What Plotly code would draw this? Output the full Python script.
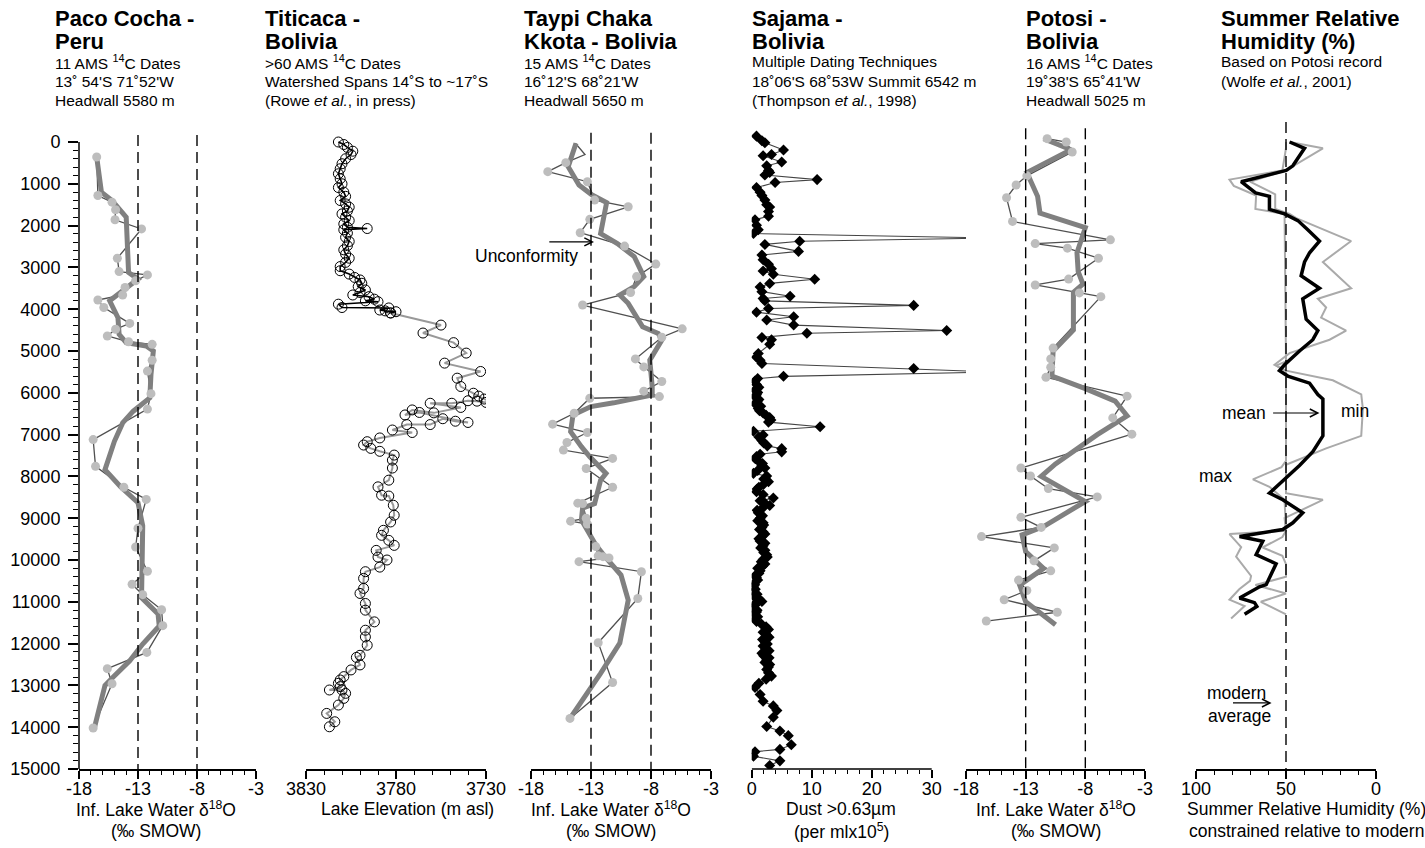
import plotly.graph_objects as go

FONT = "Liberation Sans, Arial, Helvetica, sans-serif"
W, H = 1425, 848

# ---------------- DATA ----------------
# Paco Cocha (Peru): inferred lake water d18O vs age (cal yr BP)
paco_d18o = [-16.5, -16.4, -15.2, -14.9, -14.95, -12.7, -14.75, -14.6, -12.2, -13.2, -14.1, -14.3,
             -16.4, -15.9, -13.7, -14.9, -15.6, -13.8, -11.8, -11.8, -12.2, -11.9, -12.2, -16.8,
             -16.6, -14.2, -12.3, -13.0, -13.2, -12.2, -13.5, -12.6, -11.0, -10.9, -12.25, -15.6,
             -15.2, -16.8]
paco_age = [360, 1280, 1440, 1620, 1860, 2080, 2780, 3100, 3180, 3320, 3480, 3660,
            3780, 3960, 4340, 4480, 4640, 4780, 4840, 5220, 5480, 6020, 6390, 7120,
            7760, 8260, 8550, 9240, 9690, 10270, 10580, 10830, 11190, 11570, 12210, 12600,
            12960, 14020]
paco_smooth_d18o = [-16.5, -16.1, -15.2, -14.0, -13.8, -13.0, -15.4, -14.7, -14.6, -14.0, -12.3,
                    -11.7, -11.9, -12.0, -13.4, -14.3, -15.0, -15.8, -14.5, -13.0, -12.6, -12.6,
                    -12.7, -11.3, -11.2, -12.6, -13.7, -15.1, -15.8, -16.7]
paco_smooth_age = [360, 1200, 1400, 1800, 3120, 3280, 3800, 4200, 4600, 4800, 4880,
                   5000, 5560, 6120, 6440, 6720, 7160, 7840, 8240, 8630, 9180, 9970,
                   10900, 11290, 11580, 12010, 12410, 12800, 13000, 14020]

# Titicaca: lake elevation (m asl)
titi_upper_elev = [3812, 3809, 3807, 3804, 3805, 3808, 3810, 3811, 3812, 3811, 3810, 3812, 3809,
                   3808, 3811, 3808, 3806, 3807, 3810, 3808, 3806, 3809, 3807, 3796, 3809, 3807,
                   3808, 3806, 3807, 3809, 3808, 3806, 3808, 3811, 3811, 3806, 3803, 3800, 3799,
                   3801, 3797, 3800, 3804, 3795, 3792, 3797, 3790, 3812, 3810, 3784, 3789, 3786,
                   3780, 3783]
titi_upper_age = [0, 60, 130, 220, 300, 400, 520, 640, 760, 880, 1000, 1090, 1200,
                  1300, 1400, 1480, 1560, 1650, 1720, 1800, 1880, 1960, 2040, 2070, 2100, 2180,
                  2280, 2380, 2480, 2580, 2680, 2780, 2880, 2980, 3080, 3160, 3240, 3300, 3380,
                  3460, 3540, 3600, 3660, 3700, 3760, 3800, 3820, 3880, 3960, 3970, 4020, 4040,
                  4060, 4090]
titi_lower_elev = [3783, 3755, 3765, 3748, 3741, 3753, 3733, 3746, 3744, 3737, 3734, 3731, 3727,
                   3730, 3735, 3740, 3749, 3761, 3744, 3759, 3771, 3775, 3767, 3740, 3747, 3754,
                   3761, 3774, 3782, 3771, 3789, 3796, 3798, 3794, 3789, 3781, 3782, 3782, 3784,
                   3790, 3788, 3784, 3781.5, 3781, 3783, 3787, 3788, 3784, 3781, 3791, 3790, 3785,
                   3789, 3797, 3798, 3798, 3800, 3797, 3797, 3792, 3797, 3797, 3796, 3800, 3802,
                   3800, 3805, 3809, 3811, 3812, 3811, 3817, 3810, 3808, 3809, 3812, 3818.5, 3814,
                   3817]
titi_lower_age = [4090, 4380, 4570, 4800, 5050, 5290, 5490, 5650, 5850, 6010, 6080, 6150, 6210,
                  6230, 6200, 6190, 6250, 6250, 6350, 6480, 6410, 6530, 6470, 6710, 6680, 6620,
                  6760, 6760, 6890, 6950, 7080, 7170, 7250, 7330, 7400, 7490, 7610, 7800, 8090,
                  8250, 8450, 8470, 8690, 8930, 9090, 9290, 9410, 9530, 9650, 9770, 9930, 10000,
                  10170, 10280, 10440, 10680, 10800, 11040, 11200, 11480, 11680, 11840, 12040, 12280, 12330,
                  12510, 12630, 12790, 12870, 12950, 13030, 13110, 13110, 13190, 13310, 13470, 13670, 13870,
                  13990]

# Taypi Chaka Kkota
taypi_d18o = [-14.3, -13.5, -15.1, -16.6, -13.3, -12.7, -9.9, -13.1, -13.9, -10.2, -7.6, -9.2, -9.7,
              -13.7, -5.4, -7.1, -9.3, -8.6, -7.1, -8.6, -7.3, -13.1, -14.4, -16.2, -13.3, -15.0,
              -15.3, -11.2, -13.4, -11.2, -14.1, -13.7, -13.4, -14.7, -13.3, -12.6, -12.4, -12.0,
              -11.5, -14.0, -8.8, -9.1, -12.4, -11.2, -14.75]
taypi_age = [30, 300, 495, 710, 950, 1390, 1550, 1850, 2170, 2490, 2920, 3220, 3600,
             3900, 4470, 4670, 5190, 5380, 5730, 5960, 6090, 6130, 6490, 6750, 6950, 7190,
             7370, 7570, 7810, 8260, 8640, 8650, 9000, 9070, 9140, 9680, 9900, 9920,
             9950, 10040, 10280, 10920, 11980, 12930, 13790]
taypi_smooth_d18o = [-14.25, -14.5, -14.9, -14.0, -12.9, -11.7, -12.2, -10.8, -9.4, -8.6, -9.4, -10.6,
                     -9.9, -8.7, -7.4, -7.1, -8.1, -7.9, -7.9, -11.1, -13.0, -14.5, -14.7, -13.8,
                     -13.1, -11.75, -12.2, -12.7, -13.7, -13.8, -12.6, -11.6, -10.5, -9.9, -10.6,
                     -12.2, -14.75]
taypi_smooth_age = [30, 270, 590, 1030, 1270, 1450, 2190, 2430, 2740, 3220, 3460, 3660,
                    3860, 4420, 4580, 4740, 5220, 5850, 6050, 6240, 6330, 6530, 6930, 7290,
                    7530, 7930, 8090, 8650, 8760, 9040, 9640, 10000, 10360, 10960, 11990,
                    12710, 13790]

# Sajama ice core dust (>0.63 um, per ml x 10^5)
sajama_dust = [0.8, 1.7, 2.2, 5.3, 3.3, 1.9, 5.0, 2.5, 2.8, 3.0, 2.2, 10.9, 3.9, 0.8, 1.4, 1.7,
               2.2, 2.5, 3.0, 2.8, 2.8, 0.55, 0.8, 1.1, 0.3, 40.2, 8.0, 2.2, 7.8, 1.7, 1.9, 2.8,
               3.3, 1.9, 3.6, 10.5, 3.0, 1.4, 1.7, 6.4, 1.9, 2.2, 27.0, 2.8, 0.8, 7.0, 2.5, 7.0,
               32.5, 9.2, 1.7, 3.3, 3.0, 1.1, 0.8, 1.4, 1.7, 27.0, 40.4, 5.3, 0.55, 0.55, 0.8,
               0.55, 1.1, 1.9, 3.0, 2.8, 11.4, 0.3, 1.9, 1.7, 5.0, 5.0, 0.8, 1.1, 1.7, 0.3, 2.5,
               2.8, 0.8, 1.9, 3.6, 1.4, 3.0, 1.1, 1.4, 1.9, 1.7, 1.9, 1.7, 1.4, 1.9, 2.2, 2.5,
               1.9, 2.2, 1.4, 0.8, 0.55, 0.3, 0.3, 1.7, 0.55, 0.8, 0.55, 2.5, 2.2, 2.5, 1.7, 2.5,
               2.8, 3.3, 0.55, 1.4, 1.9, 3.6, 4.2, 3.6, 2.5, 4.7, 6.1, 6.6, 4.7, 0.55, 0.3, 4.7,
               3.0]
sajama_age = [-140, -30, 20, 190, 300, 330, 480, 570, 680, 730, 790, 900, 970, 1090, 1200, 1280,
              1390, 1500, 1555, 1665, 1775, 1860, 1990, 2100, 2190, 2297, 2376, 2450, 2617, 2704, 2814, 2923,
              3033, 3088, 3164, 3285, 3383, 3471, 3580, 3690, 3745, 3800, 3909, 3985, 4073, 4182, 4259, 4380,
              4511, 4577, 4675, 4730, 4840, 5058, 5146, 5223, 5299, 5420, 5502, 5606, 5716, 5935, 6044,
              6263, 6373, 6482, 6592, 6701, 6811, 6920, 7008, 7139, 7336, 7413, 7522, 7632, 7741, 7927, 7993,
              8125, 8365, 8431, 8519, 8584, 8694, 8869, 9001, 9110, 9220, 9329, 9439, 9548, 9658, 9767, 9877,
              9986, 10096, 10260, 10424, 10534, 10643, 10862, 10993, 11081, 11245, 11410, 11793, 11957, 12121, 12231, 12395,
              12559, 12778, 13052, 13216, 13381, 13490, 13600, 13764, 13983, 14092, 14202, 14421, 14531, 14586, 14696, 14805,
              14914]
# extra samples read from the dense, nearly continuous part of the record
sajama_dense_dust = [1.0, 0.8, 1.2, 1.0, 0.6, 1.2, 0.9, 1.5, 1.3, 2.4, 3.2, 1.2, 2.0, 2.6, 1.4, 0.6,
                     1.8, 2.2, 1.0, 2.0, 2.0, 1.2, 0.9, 2.2, 1.8, 0.9, 1.8, 1.0, 2.0, 1.3, 2.2, 1.2,
                     2.2, 1.5, 2.0, 2.6, 1.6, 1.8, 1.0, 1.2, 0.6, 1.0, 0.5, 0.6, 0.3, 0.9, 1.2, 0.6,
                     0.3, 0.9, 0.5, 1.0, 0.8, 1.6, 2.4, 2.8, 1.9, 2.9, 1.8, 2.6, 1.9, 2.9, 2.0, 2.9,
                     2.2, 3.0, 2.5, 2.8, 2.4, 1.2]
sajama_dense_age = [5660, 5800, 5870, 5990, 6100, 6160, 6210, 6320, 6430, 6540, 6650, 7060, 7200, 7270,
                    7470, 7580, 7690, 7800, 7860, 8060, 8190, 8260, 8300, 8640, 8760, 8810, 8940, 9060,
                    9160, 9270, 9380, 9490, 9600, 9710, 9820, 9930, 10040, 10150, 10200, 10320, 10370,
                    10480, 10590, 10700, 10760, 10820, 10930, 11040, 11160, 11200, 11300, 11360, 11470,
                    11530, 11600, 11660, 11730, 11850, 11900, 12010, 12060, 12170, 12290, 12340, 12450,
                    12500, 12620, 12700, 12850, 12950]

# Potosi
potosi_d18o = [-11.2, -9.6, -9.1, -12.9, -13.8, -14.6, -14.1, -5.9, -12.2, -9.5, -6.9, -9.4, -12.2,
               -8.5, -6.7, -10.7, -10.9, -10.9, -11.3, -4.5, -5.7, -4.1, -13.4, -12.6, -11.1, -7.0,
               -13.4, -11.7, -16.7, -10.6, -12.3, -10.9, -13.6, -12.9, -14.8, -10.35, -16.3]
potosi_age = [-80, 0, 240, 810, 1030, 1335, 1900, 2340, 2430, 2540, 2780, 3280, 3420,
              3610, 3700, 4930, 5190, 5390, 5630, 6080, 6600, 6990, 7800, 7990, 8290, 8490,
              8980, 9220, 9440, 9710, 10020, 10260, 10480, 10730, 10950, 11250, 11460]
potosi_smooth_d18o = [-11.5, -9.2, -12.9, -12.0, -11.8, -8.0, -8.7, -8.6, -8.2, -9.0, -9.0, -10.7,
                      -10.8, -8.0, -5.5, -4.5, -7.0, -10.5, -11.7, -8.0, -11.5, -13.3, -13.0, -11.5,
                      -13.5, -13.0, -10.5]
potosi_smooth_age = [-80, 185, 730, 1300, 1700, 2050, 2650, 3100, 3400, 3600, 4500, 5000,
                     5600, 5900, 6200, 6550, 7000, 7700, 8000, 8600, 9200, 9400, 9800, 10200,
                     10600, 11000, 11550]

# Summer relative humidity (%) based on Potosi record
rh_mean = [48, 39.7, 46.2, 49.9, 74.9, 66.9, 59.2, 59.2, 50.8, 43.4, 37.9, 31.4, 36.9, 39.7, 41.6,
           31.4, 40.7, 39.7, 38.8, 32.3, 35.1, 42.5, 50.8, 53.6, 49, 36.9, 32.3, 29.5, 29.5, 35.1,
           42.5, 50.8, 59.2, 51.8, 40.7, 46.2, 51.8, 75.8, 62.9, 66.6, 55.5, 61, 64.7, 75.8, 67.5,
           66.2, 73]
rh_mean_age = [0, 150, 570, 680, 950, 1220, 1300, 1610, 1720, 1880, 2100, 2370, 2650, 2870, 3200,
               3500, 3750, 3960, 4240, 4510, 4730, 5000, 5330, 5470, 5600, 5770, 6040, 6150, 7030, 7410,
               7740, 8070, 8400, 8560, 8870, 9110, 9270, 9440, 9550, 9870, 10090, 10590, 10640, 10910, 11020,
               11110, 11300]
rh_max = [50, 50, 52, 81.4, 79, 66.6, 67, 50.8, 50, 55.5, 50, 50, 52.5, 68.4, 59.2, 50.8, 50,
          81.4, 74.9, 77.7, 69.4, 70, 76, 81.4, 73, 80.5]
rh_max_age = [0, 150, 680, 900, 1050, 1280, 1600, 1720, 5250, 5350, 5480, 7630, 7780, 8070, 8250,
              8560, 9300, 9380, 9690, 9920, 10380, 10500, 10700, 10950, 11100, 11400]
rh_min = [48, 29.5, 50, 70, 56, 56, 48, 44.3, 13.8, 29.5, 13.8, 32.3, 27.7, 30.5, 16.6, 25.8, 48,
          56.4, 50, 24, 8.2, 7.3, 8.2, 27.7, 50, 50, 29.5, 50.8, 50, 52, 63, 52, 50, 50, 67, 50,
          64, 50]
rh_min_age = [0, 150, 680, 950, 1250, 1600, 1720, 1820, 2370, 2870, 3500, 3750, 3960, 4200, 4510,
              4730, 5050, 5330, 5470, 5700, 6040, 6380, 7030, 7330, 7720, 8400, 8560, 9000, 9300, 9450,
              9700, 9900, 10100, 10400, 10600, 10800, 11000, 11300]

age_ticks = list(range(0, 15001, 1000))
age_ticklabels = [str(v) for v in age_ticks]
d18o_ticks = [-18, -13, -8, -3]
elev_ticks = [3830, 3780, 3730]
dust_ticks = [0, 10, 20, 30]
rh_ticks = [100, 50, 0]

# ---------------- FIGURE ----------------
def fx(p):
    return p / W

def fy(p):
    return 1 - p / H

fig = go.Figure()

LIGHT = "#bdbdbd"
THIN = "#505050"
THICK = "#808080"

def isotope_panel(xa, thin_x, thin_y, sm_x, sm_y, mk_x, mk_y):
    fig.add_trace(go.Scatter(x=thin_x, y=thin_y, mode="lines", xaxis=xa, yaxis="y",
                             line=dict(color=THIN, width=1.3), hoverinfo="skip"))
    fig.add_trace(go.Scatter(x=sm_x, y=sm_y, mode="lines", xaxis=xa, yaxis="y",
                             line=dict(color=THICK, width=5), hoverinfo="skip"))
    fig.add_trace(go.Scatter(x=mk_x, y=mk_y, mode="markers", xaxis=xa, yaxis="y",
                             marker=dict(color=LIGHT, size=9, line=dict(width=0))))

isotope_panel("x", paco_d18o, paco_age, paco_smooth_d18o, paco_smooth_age, paco_d18o, paco_age)

fig.add_trace(go.Scatter(x=titi_lower_elev, y=titi_lower_age, mode="lines", xaxis="x2", yaxis="y",
                         line=dict(color="#999999", width=2)))
fig.add_trace(go.Scatter(x=titi_upper_elev, y=titi_upper_age, mode="lines", xaxis="x2", yaxis="y",
                         line=dict(color="black", width=1.6)))
fig.add_trace(go.Scatter(x=titi_upper_elev + titi_lower_elev, y=titi_upper_age + titi_lower_age,
                         mode="markers", xaxis="x2", yaxis="y",
                         marker=dict(symbol="circle-open", color="black", size=10, line=dict(width=1))))

isotope_panel("x3", taypi_d18o, taypi_age, taypi_smooth_d18o, taypi_smooth_age,
              taypi_d18o[2:], taypi_age[2:])

saj = sorted(zip(sajama_age + sajama_dense_age, sajama_dust + sajama_dense_dust))
fig.add_trace(go.Scatter(x=[d for _, d in saj], y=[a for a, _ in saj], mode="lines+markers",
                         xaxis="x4", yaxis="y",
                         line=dict(color="#444444", width=1.1),
                         marker=dict(symbol="diamond", color="black", size=8.5)))

isotope_panel("x5", potosi_d18o, potosi_age, potosi_smooth_d18o, potosi_smooth_age,
              potosi_d18o, potosi_age)

fig.add_trace(go.Scatter(x=rh_max, y=rh_max_age, mode="lines", xaxis="x6", yaxis="y",
                         line=dict(color="#aaaaaa", width=2)))
fig.add_trace(go.Scatter(x=rh_min, y=rh_min_age, mode="lines", xaxis="x6", yaxis="y",
                         line=dict(color="#aaaaaa", width=2)))
fig.add_trace(go.Scatter(x=rh_mean, y=rh_mean_age, mode="lines", xaxis="x6", yaxis="y",
                         line=dict(color="black", width=3.5)))

Y_BOT, Y_TOP = 769, 121.1
tickfont = dict(family=FONT, size=18, color="black")

def xaxis(domain, rng, ticks, minor_vals, showline=True):
    return dict(domain=[fx(domain[0]), fx(domain[1])], range=rng, anchor="y", automargin=False,
                tickmode="array", tickvals=ticks, ticktext=[str(t) for t in ticks],
                ticks="outside", ticklen=8, tickwidth=1.5, ticklabelstandoff=-5,
                tickcolor="black", tickfont=tickfont, showline=showline, linecolor="black",
                linewidth=1.5, showgrid=False, zeroline=False,
                minor=dict(tickmode="array", tickvals=minor_vals, ticks="outside", ticklen=4,
                           tickwidth=1.2, tickcolor="black"))

minor_d18o = [v for v in range(-17, -3) if v not in d18o_ticks]
minor_elev = [v for v in range(3730, 3831, 10) if v not in elev_ticks]
minor_dust = [v for v in range(2, 30, 2) if v % 10 != 0]
minor_rh = [v for v in range(10, 100, 10) if v != 50]
minor_age = [v for v in range(200, 15000, 200) if v % 1000 != 0]

fig.update_layout(
    width=W, height=H, margin=dict(l=0, r=0, t=0, b=0, autoexpand=False),
    paper_bgcolor="white", plot_bgcolor="white", showlegend=False,
    font=dict(family=FONT, color="black"),
    yaxis=dict(domain=[fy(Y_BOT), fy(Y_TOP)], range=[15000, -500], anchor="x", automargin=False,
               tickmode="array", tickvals=age_ticks, ticktext=age_ticklabels,
               ticks="outside", ticklen=10, tickwidth=1.5, ticklabelstandoff=4,
               tickcolor="black", tickfont=tickfont, showline=False, showgrid=False,
               zeroline=False,
               minor=dict(tickmode="array", tickvals=minor_age, ticks="outside", ticklen=5,
                          tickwidth=1.2, tickcolor="black")),
    xaxis=xaxis((79, 256), [-18, -3], d18o_ticks, minor_d18o),
    xaxis2=xaxis((306, 486), [3830, 3730], elev_ticks, minor_elev),
    xaxis3=xaxis((531, 711), [-18, -3], d18o_ticks, minor_d18o),
    xaxis4=xaxis((751.7, 1000), [0, (1000 - 751.7) / 6.0], dust_ticks, minor_dust, showline=False),
    xaxis5=xaxis((966, 1145), [-18, -3], d18o_ticks, minor_d18o),
    xaxis6=xaxis((1196, 1376), [100, 0], rh_ticks, minor_rh),
)

shapes = []
# y axis line (0 - 15000)
shapes.append(dict(type="line", xref="paper", yref="y", x0=fx(79), x1=fx(79), y0=0, y1=15000,
                   line=dict(color="black", width=1.5)))
# dust axis line (0 - 30)
shapes.append(dict(type="line", xref="x4", yref="paper", x0=0, x1=30, y0=fy(Y_BOT), y1=fy(Y_BOT),
                   line=dict(color="black", width=1.5)))
DASH = dict(color="black", width=1.4, dash="11px,6px")
for xa, xv, top in [("x", -13, -170), ("x", -8, -170), ("x3", -13, -220), ("x3", -8, -220),
                    ("x5", -13, -330), ("x5", -8, -330), ("x6", 50, -480)]:
    shapes.append(dict(type="line", xref=xa, yref="y", x0=xv, x1=xv, y0=top, y1=15000, line=DASH))
fig.update_layout(shapes=shapes)

ann = []

def txt(x, y, s, size, anchor="left"):
    ann.append(dict(xref="paper", yref="paper", x=fx(x), y=fy(y), text=s, showarrow=False,
                    xanchor=anchor, yanchor="middle", font=dict(family=FONT, size=size, color="black")))

TS, SS = 22, 15.5
headers = [
    (53, ["Paco Cocha -", "Peru"], ["11 AMS <sup>14</sup>C Dates", "13˚ 54'S 71˚52'W", "Headwall 5580 m"]),
    (263, ["Titicaca -", "Bolivia"], [">60 AMS <sup>14</sup>C Dates", "Watershed Spans 14˚S to ~17˚S",
                                     "(Rowe <i>et al.</i>, in press)"]),
    (522, ["Taypi Chaka", "Kkota - Bolivia"], ["15 AMS <sup>14</sup>C Dates", "16˚12'S 68˚21'W", "Headwall 5650 m"]),
    (750, ["Sajama -", "Bolivia"], ["Multiple Dating Techniques", "18˚06'S 68˚53W Summit 6542 m",
                                   "(Thompson <i>et al.</i>, 1998)"]),
    (1024, ["Potosi -", "Bolivia"], ["16 AMS <sup>14</sup>C Dates", "19˚38'S 65˚41'W", "Headwall 5025 m"]),
    (1219, ["Summer Relative", "Humidity (%)"], ["Based on Potosi record", "(Wolfe <i>et al.</i>, 2001)"]),
]
for x0, tl, sl in headers:
    for i, t in enumerate(tl):
        txt(x0, 18 + 23.5 * i, "<b>" + t + "</b>", TS)
    for i, s in enumerate(sl):
        txt(x0, 62 + 19.5 * i, s, SS)

AS = 17.5
for cx, l1, l2 in [(156, "Inf. Lake Water δ<sup>18</sup>O", "(‰ SMOW)"),
                   (611, "Inf. Lake Water δ<sup>18</sup>O", "(‰ SMOW)"),
                   (1056, "Inf. Lake Water δ<sup>18</sup>O", "(‰ SMOW)"),
                   (841, "Dust >0.63µm", "(per mlx10<sup>5</sup>)"),
                   (1306, "Summer Relative Humidity (%)", "constrained relative to modern")]:
    txt(cx, 809, l1, AS, "center")
    txt(cx, 831, l2, AS, "center")
txt(408, 809, "Lake Elevation (m asl)", AS, "center")
txt(526, 256, "Unconformity", AS, "center")

def dtxt(xa, x, y, s, anchor="center"):
    ann.append(dict(xref=xa, yref="y", x=x, y=y, text=s, showarrow=False, xanchor=anchor,
                    yanchor="middle", font=dict(family=FONT, size=17.5, color="black")))

def arrow(xa, x_head, x_tail, y):
    ann.append(dict(xref=xa, yref="y", x=x_head, y=y, axref=xa, ayref="y", ax=x_tail, ay=y,
                    text="", showarrow=True, arrowhead=5, arrowsize=1.3, arrowwidth=1.2,
                    arrowcolor="black", standoff=0))

arrow("x3", -12.75, -16.6, 2390)
dtxt("x6", 73.1, 6483, "mean")
arrow("x6", 31.4, 58, 6483)
dtxt("x6", 11.4, 6435, "min")
dtxt("x6", 89.2, 7990, "max")
dtxt("x6", 77.5, 13182, "modern")
dtxt("x6", 75.8, 13732, "average")
arrow("x6", 58, 80.3, 13420)

fig.update_layout(annotations=ann)
fig.write_html(
    "out.html",
    config={"displayModeBar": False},
    post_script="document.body.style.margin='0px';document.body.style.padding='0px';"
                "document.body.style.overflow='hidden';",
)
